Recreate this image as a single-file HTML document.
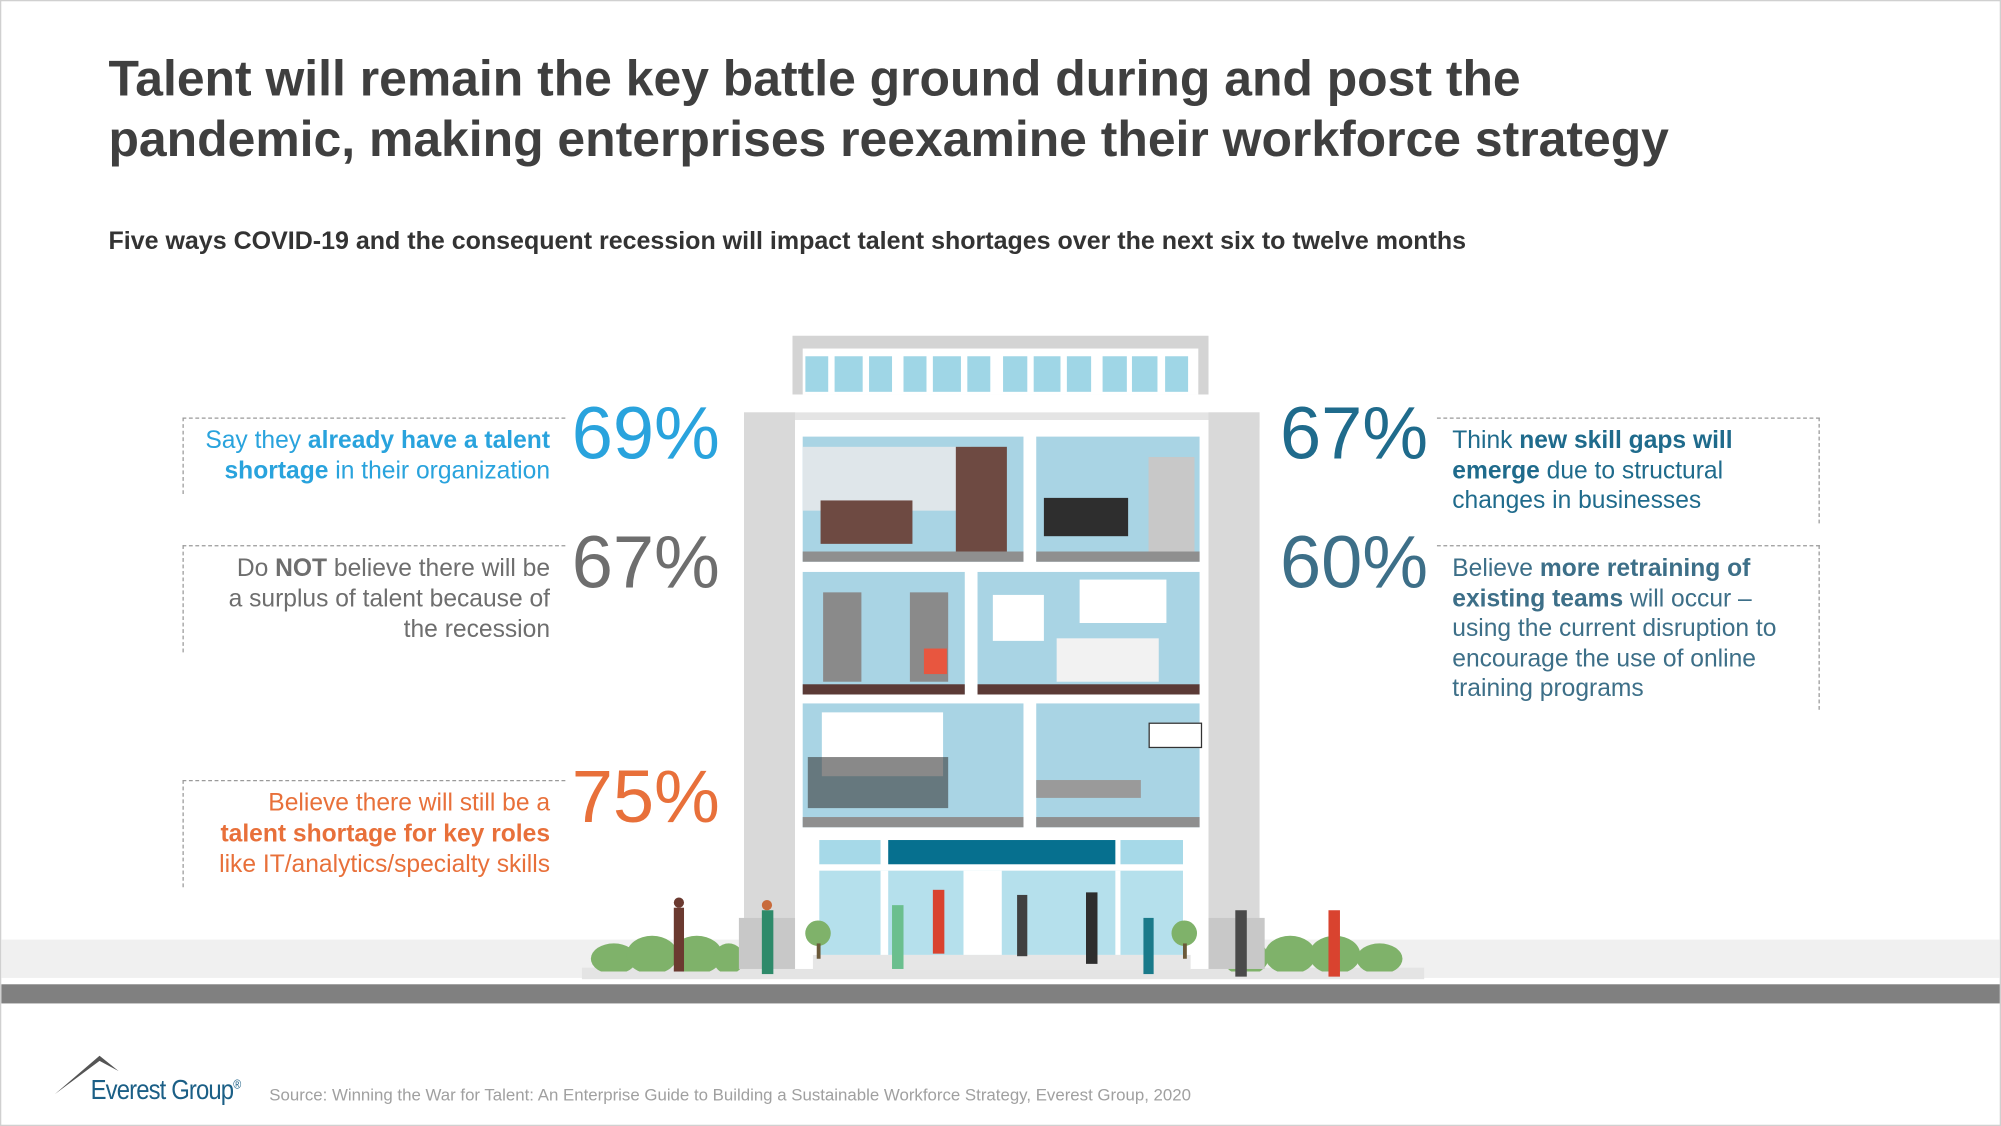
<!DOCTYPE html>
<html><head><meta charset="utf-8"><style>
html,body{margin:0;padding:0;background:#fff;overflow:hidden}
#w{position:absolute;left:0;top:0;width:1568px;height:882px;transform:scale(1.27615,1.27664);transform-origin:0 0;font-family:"Liberation Sans",Arial,sans-serif;border:1px solid #d0d0d0;box-sizing:border-box;overflow:hidden}
.a{position:absolute}
h1{position:absolute;left:84px;top:38px;margin:0;font-size:39.1px;line-height:47px;color:#3f3f3f;font-weight:bold;white-space:nowrap}
.sub{left:84px;top:177px;font-size:19.6px;font-weight:bold;color:#333;white-space:nowrap}
.lb{border-top:1px dashed #9a9a9a;border-left:1px dashed #9a9a9a;width:300px;box-sizing:border-box;text-align:right;padding:6px 12px 0 12px;font-size:19.3px;line-height:24px}
.rb{border-top:1px dashed #9a9a9a;border-right:1px dashed #9a9a9a;width:300px;box-sizing:border-box;padding:6px 28px 0 12px;font-size:19.3px;line-height:23.5px;color:#1f6b8c}
.pc{font-size:58px;line-height:60px}
.room{position:absolute;background:#a9d4e4}
.fl{position:absolute;left:0;right:0;bottom:0;height:8px;background:#8f8f8f}
.fb{background:#5b3a36}
</style></head><body><div id="w">
<h1>Talent will remain the key battle ground during and post the<br>pandemic, making enterprises reexamine their workforce strategy</h1>
<div class="a sub">Five ways COVID-19 and the consequent recession will impact talent shortages over the next six to twelve months</div>

<div class="a" style="left:0;top:735px;width:1568px;height:30px;background:#f0f0f0"></div>
<div class="a" style="left:0;top:770px;width:1568px;height:15px;background:#808080"></div>
<div class="a" style="left:455px;top:757px;width:660px;height:9px;background:#e4e4e4"></div>
<svg class="a" style="left:455px;top:725px" width="660" height="35">
<g fill="#7fb26a"><ellipse cx="25" cy="25" rx="18" ry="12"/><ellipse cx="55" cy="22" rx="20" ry="15"/><ellipse cx="90" cy="22" rx="20" ry="15"/><ellipse cx="115" cy="25" rx="12" ry="12"/>
<ellipse cx="520" cy="24" rx="18" ry="14"/><ellipse cx="555" cy="22" rx="20" ry="15"/><ellipse cx="590" cy="22" rx="20" ry="15"/><ellipse cx="625" cy="25" rx="18" ry="12"/></g></svg>

<div class="a" style="left:620px;top:262px;width:326px;height:46px;background:#d4d4d4"></div>
<div class="a" style="left:628px;top:272px;width:310px;height:36px;background:#fff"></div>
<svg class="a" style="left:630px;top:278px" width="306" height="28"><g fill="#9fd6e6">
<rect x="0" y="0" width="18" height="28"/><rect x="23" y="0" width="22" height="28"/><rect x="50" y="0" width="18" height="28"/>
<rect x="77" y="0" width="18" height="28"/><rect x="100" y="0" width="22" height="28"/><rect x="127" y="0" width="18" height="28"/>
<rect x="155" y="0" width="19" height="28"/><rect x="179" y="0" width="21" height="28"/><rect x="205" y="0" width="19" height="28"/>
<rect x="233" y="0" width="19" height="28"/><rect x="256" y="0" width="20" height="28"/><rect x="282" y="0" width="18" height="28"/></g></svg>
<div class="a" style="left:582px;top:322px;width:404px;height:12px;background:#e4e4e4"></div>
<div class="a" style="left:582px;top:322px;width:40px;height:420px;background:#d9d9d9"></div>
<div class="a" style="left:946px;top:322px;width:40px;height:420px;background:#d9d9d9"></div>
<div class="a" style="left:622px;top:328px;width:324px;height:430px;background:#fff"></div>
<div class="a" style="left:578px;top:718px;width:44px;height:40px;background:#c8c8c8"></div>
<div class="a" style="left:946px;top:718px;width:44px;height:40px;background:#c8c8c8"></div>

<div class="room" style="left:628px;top:341px;width:173px;height:98px"><div class="fl"></div>
<div class="a" style="left:0;top:8px;width:132px;height:50px;background:#dfe6ea"></div>
<div class="a" style="left:14px;top:50px;width:72px;height:34px;background:#6e4a42"></div>
<div class="a" style="left:120px;top:8px;width:40px;height:82px;background:#6e4a42"></div></div>
<div class="room" style="left:811px;top:341px;width:128px;height:98px"><div class="fl"></div>
<div class="a" style="left:6px;top:48px;width:66px;height:30px;background:#2e2e2e"></div>
<div class="a" style="left:88px;top:16px;width:36px;height:74px;background:#c8c8c8"></div></div>

<div class="room" style="left:628px;top:447px;width:127px;height:96px"><div class="fl fb"></div>
<div class="a" style="left:16px;top:16px;width:30px;height:70px;background:#8a8a8a"></div>
<div class="a" style="left:84px;top:16px;width:30px;height:70px;background:#8a8a8a"></div>
<div class="a" style="left:95px;top:60px;width:18px;height:20px;background:#e8563f"></div></div>
<div class="room" style="left:765px;top:447px;width:174px;height:96px"><div class="fl fb"></div>
<div class="a" style="left:80px;top:6px;width:68px;height:34px;background:#fff"></div>
<div class="a" style="left:12px;top:18px;width:40px;height:36px;background:#fff"></div>
<div class="a" style="left:62px;top:52px;width:80px;height:34px;background:#f2f2f2"></div></div>

<div class="room" style="left:628px;top:550px;width:173px;height:97px"><div class="fl"></div>
<div class="a" style="left:15px;top:7px;width:95px;height:50px;background:#fff"></div>
<div class="a" style="left:4px;top:42px;width:110px;height:40px;background:#3a3a3a;opacity:.6"></div></div>
<div class="room" style="left:811px;top:550px;width:128px;height:97px"><div class="fl"></div>
<div class="a" style="left:0;top:60px;width:82px;height:14px;background:#9a9a9a"></div>
<div class="a" style="left:88px;top:15px;width:40px;height:18px;background:#fff;border:1px solid #333"></div></div>

<div class="a" style="left:641px;top:657px;width:48px;height:19px;background:#a6d9e8"></div>
<div class="a" style="left:695px;top:657px;width:178px;height:19px;background:#06708f"></div>
<div class="a" style="left:877px;top:657px;width:49px;height:19px;background:#a6d9e8"></div>
<div class="a" style="left:641px;top:681px;width:285px;height:66px;background:#b5e0ec"></div>
<div class="a" style="left:689px;top:681px;width:6px;height:66px;background:#fff"></div>
<div class="a" style="left:873px;top:681px;width:4px;height:66px;background:#fff"></div>
<div class="a" style="left:754px;top:681px;width:30px;height:66px;background:#fff"></div>
<div class="a" style="left:636px;top:747px;width:296px;height:12px;background:#e6e6e6"></div>
<svg class="a" style="left:520px;top:690px" width="540" height="78"><g>
<rect x="7" y="20" width="8" height="50" fill="#6b3a30"/><circle cx="11" cy="16" r="4" fill="#6b3a30"/>
<rect x="76" y="22" width="9" height="50" fill="#2e8a6a"/><circle cx="80" cy="18" r="4" fill="#c86b3c"/>
<rect x="178" y="18" width="9" height="50" fill="#6bbf8e"/><rect x="210" y="6" width="9" height="50" fill="#d9432f"/>
<rect x="276" y="10" width="8" height="48" fill="#404040"/><rect x="330" y="8" width="9" height="56" fill="#2e2e2e"/>
<rect x="375" y="28" width="8" height="44" fill="#1a7a8a"/><rect x="447" y="22" width="9" height="52" fill="#4a4a4a"/>
<rect x="520" y="22" width="9" height="52" fill="#d9432f"/>
<circle cx="120" cy="40" r="10" fill="#7fb26a"/><rect x="119" y="48" width="3" height="12" fill="#6b5a3a"/>
<circle cx="407" cy="40" r="10" fill="#7fb26a"/><rect x="406" y="48" width="3" height="12" fill="#6b5a3a"/></g></svg>

<div class="a lb" style="left:142px;top:326px;height:60px;color:#29a3dd">Say they <b>already have a talent shortage</b> in their organization</div>
<div class="a pc" style="left:447px;top:309px;color:#29a3dd">69%</div>
<div class="a lb" style="left:142px;top:426px;height:84px;color:#6e6e6e">Do <b>NOT</b> believe there will be<br>a surplus of talent because of<br>the recession</div>
<div class="a pc" style="left:447px;top:410px;color:#6e6e6e">67%</div>
<div class="a lb" style="left:142px;top:610px;height:84px;color:#e8703a">Believe there will still be a <b>talent shortage for key roles</b> like IT/analytics/specialty skills</div>
<div class="a pc" style="left:447px;top:594px;color:#e8703a">75%</div>
<div class="a pc" style="left:1002px;top:309px;color:#1f6b8c">67%</div>
<div class="a rb" style="left:1125px;top:326px;height:83px">Think <b>new skill gaps will emerge</b> due to structural changes in businesses</div>
<div class="a pc" style="left:1002px;top:410px;color:#3d6f88">60%</div>
<div class="a rb" style="left:1125px;top:426px;height:129px;color:#3d6f88">Believe <b>more retraining of existing teams</b> will occur – using the current disruption to encourage the use of online training programs</div>

<svg class="a" style="left:40px;top:822px" width="60" height="40"><path d="M2 34 L37 4 L52 16 L37 8 Z" fill="#555"/></svg>
<div class="a" style="left:70px;top:840px;font-size:22px;color:#1b5f86;letter-spacing:-0.8px;transform:scaleX(0.85);transform-origin:0 0;white-space:nowrap">Everest Group<sup style="font-size:10px">®</sup></div>
<div class="a" style="left:210px;top:849px;font-size:13.2px;color:#a0a0a0;white-space:nowrap">Source: Winning the War for Talent: An Enterprise Guide to Building a Sustainable Workforce Strategy, Everest Group, 2020</div>
</div></body></html>
